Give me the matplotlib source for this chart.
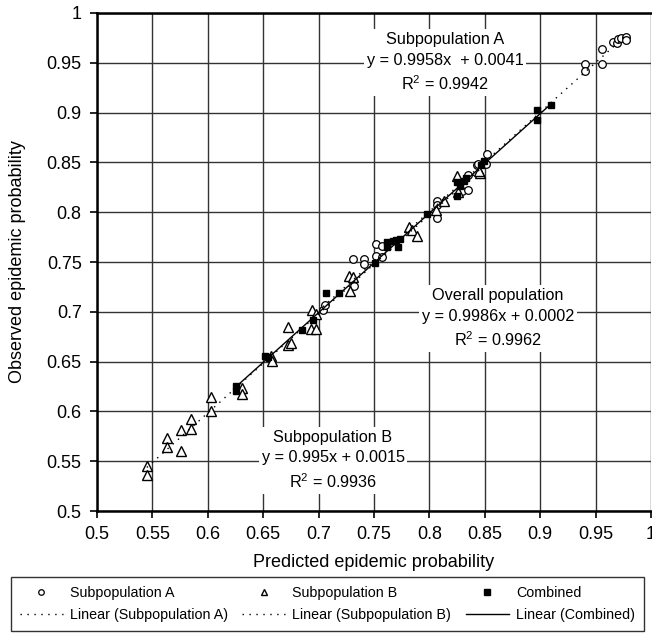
import matplotlib
matplotlib.use("Agg")
import matplotlib.pyplot as plt
import numpy as np

plt.rcParams['font.family'] = ['Liberation Sans', 'DejaVu Sans']
plt.rcParams['mathtext.fontset'] = 'custom'
plt.rcParams['mathtext.rm'] = 'Liberation Sans'
plt.rcParams['mathtext.it'] = 'Liberation Sans:italic'

# predicted vs observed epidemic probability
sub_a_x = [0.704, 0.706, 0.732, 0.731, 0.741, 0.741, 0.752, 0.752, 0.757, 0.757,
           0.807, 0.807, 0.807, 0.829, 0.835, 0.835, 0.843, 0.844, 0.852, 0.851,
           0.940, 0.940, 0.956, 0.956, 0.966, 0.969, 0.970, 0.973, 0.977, 0.977]
sub_a_y = [0.702, 0.707, 0.726, 0.753, 0.753, 0.748, 0.756, 0.768, 0.766, 0.755,
           0.811, 0.807, 0.794, 0.821, 0.822, 0.837, 0.847, 0.848, 0.858, 0.848,
           0.949, 0.942, 0.949, 0.964, 0.971, 0.970, 0.974, 0.975, 0.976, 0.973]

sub_b_x = [0.545, 0.545, 0.563, 0.563, 0.576, 0.576, 0.585, 0.585, 0.603, 0.603,
           0.631, 0.631, 0.657, 0.658, 0.672, 0.675, 0.672, 0.693, 0.698, 0.694,
           0.698, 0.727, 0.731, 0.728, 0.782, 0.784, 0.789, 0.806, 0.813, 0.825,
           0.826, 0.846, 0.845]
sub_b_y = [0.545, 0.536, 0.573, 0.564, 0.581, 0.560, 0.592, 0.582, 0.614, 0.600,
           0.624, 0.617, 0.656, 0.651, 0.667, 0.669, 0.685, 0.683, 0.683, 0.702,
           0.698, 0.736, 0.735, 0.721, 0.785, 0.782, 0.776, 0.802, 0.811, 0.836,
           0.820, 0.839, 0.841]

comb_x = [0.625, 0.625, 0.652, 0.654, 0.685, 0.695, 0.707, 0.718, 0.751, 0.762,
          0.767, 0.770, 0.773, 0.762, 0.772, 0.798, 0.825, 0.828, 0.831, 0.833,
          0.825, 0.849, 0.847, 0.897, 0.897, 0.910]
comb_y = [0.626, 0.620, 0.656, 0.655, 0.682, 0.692, 0.719, 0.719, 0.749, 0.770,
          0.771, 0.772, 0.773, 0.765, 0.765, 0.798, 0.830, 0.826, 0.831, 0.834,
          0.816, 0.851, 0.847, 0.903, 0.893, 0.908]

# fitted trend lines (slope, intercept, R^2)
fit_a = (0.9958, 0.0041, 0.9942)
fit_b = (0.995, 0.0015, 0.9936)
fit_c = (0.9986, 0.0002, 0.9962)

ticks = [0.5, 0.55, 0.6, 0.65, 0.7, 0.75, 0.8, 0.85, 0.9, 0.95, 1]
tick_labels = ['0.5', '0.55', '0.6', '0.65', '0.7', '0.75', '0.8', '0.85', '0.9', '0.95', '1']

fig = plt.figure(figsize=(6.52, 6.42), dpi=100)
ax = fig.add_axes([0.1488, 0.204, 0.8497, 0.7758])

ax.grid(True, color='#333333', linewidth=1.0, zorder=0)
ax.set_axisbelow(True)

dot = (0, (1, 4))
ma, = ax.plot(sub_a_x, sub_a_y, 'o', ms=5.5, mfc='white', mec='black', mew=0.9,
              label='Subpopulation A', zorder=3)
mb, = ax.plot(sub_b_x, sub_b_y, '^', ms=6.5, mfc='white', mec='black', mew=1.0,
              label='Subpopulation B', zorder=3)
mc, = ax.plot(comb_x, comb_y, 's', ms=4.5, mfc='black', mec='black',
              label='Combined', zorder=4)

def trend(xs, fit, **kw):
    xx = np.array([min(xs), max(xs)])
    return ax.plot(xx, fit[0] * xx + fit[1], color='black', zorder=5, **kw)[0]

la = trend(sub_a_x, fit_a, lw=1.0, linestyle=dot, label='Linear (Subpopulation A)')
lb = trend(sub_b_x, fit_b, lw=1.0, linestyle=dot, label='Linear (Subpopulation B)')
lc = trend(comb_x, fit_c, lw=1.0, label='Linear (Combined)')

box = dict(facecolor='white', edgecolor='none', pad=2)
txt = dict(ha='center', va='center', fontsize=11.7, linespacing=1.45, bbox=box, zorder=6)
ax.text(0.814, 0.950, 'Subpopulation A\ny = %.4fx  + %.4f\nR$^2$ = %.4f' % fit_a, **txt)
ax.text(0.862, 0.693, 'Overall population\ny = %.4fx + %.4f\nR$^2$ = %.4f' % fit_c, **txt)
ax.text(0.713, 0.551, 'Subpopulation B\ny = %gx + %.4f\nR$^2$ = %.4f' % fit_b, **txt)

ax.set_xlim(0.5, 1)
ax.set_ylim(0.5, 1)
ax.set_xticks(ticks)
ax.set_xticklabels(tick_labels)
ax.set_yticks(ticks)
ax.set_yticklabels(tick_labels)
ax.tick_params(labelsize=13, length=5, width=1.2, pad=6, direction='out')
for side in ['left', 'bottom', 'top']:
    ax.spines[side].set_linewidth(1.8)
ax.spines['right'].set_visible(False)

ax.set_xlabel('Predicted epidemic probability', fontsize=13, labelpad=8)
ax.set_ylabel('Observed epidemic probability', fontsize=13, labelpad=15)

handles = [ma, la, mb, lb, mc, lc]
leg = fig.legend(handles, [h.get_label() for h in handles],
                 ncol=3, loc='lower left', bbox_to_anchor=(0.006, 0.006, 0.992, 0.086),
                 mode='expand', fontsize=10.3, numpoints=1, handlelength=3.0,
                 handletextpad=0.5, columnspacing=0.5, frameon=True, fancybox=False,
                 edgecolor='black', borderpad=0.6, labelspacing=0.6)
leg.get_frame().set_linewidth(1.0)
for h in leg.legend_handles:
    h.set_markersize(4)

fig.savefig('out.png', dpi=100)
